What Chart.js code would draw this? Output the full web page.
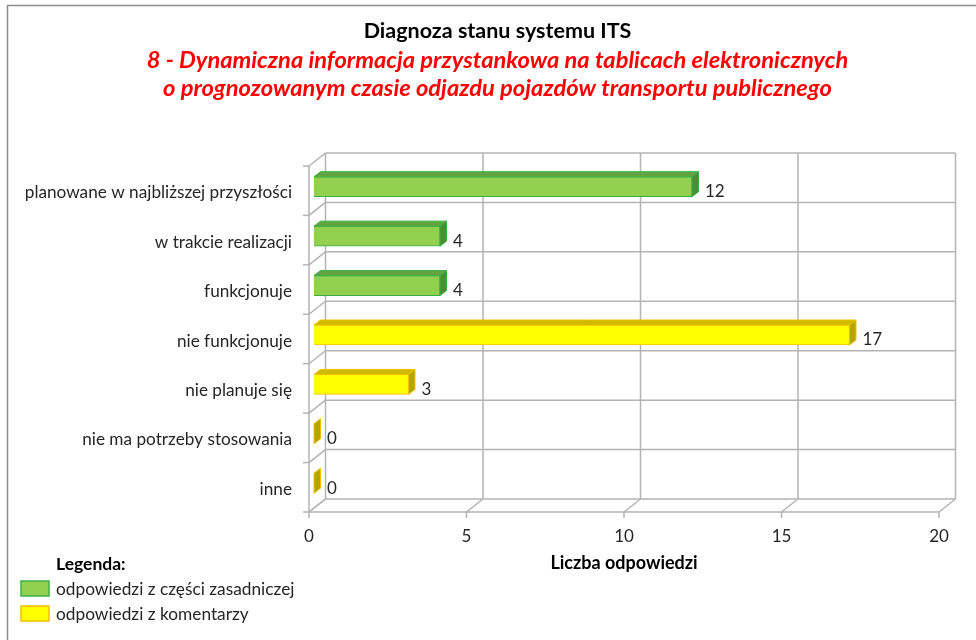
<!DOCTYPE html>
<html>
<head>
<meta charset="utf-8">
<script src="https://cdn.jsdelivr.net/npm/chart.js@4.4.1/dist/chart.umd.min.js"></script>
<style>
  html, body { margin: 0; padding: 0; background: #fff; }
  #wrap { width: 976px; height: 640px; }
</style>
</head>
<body>
<div id="wrap"><canvas id="myChart" width="976" height="640"></canvas></div>
<script>
// dane
const kategorie = [
  'planowane w najbliższej przyszłości',
  'w trakcie realizacji',
  'funkcjonuje',
  'nie funkcjonuje',
  'nie planuje się',
  'nie ma potrzeby stosowania',
  'inne'
];
const zasadnicza = [12, 4, 4, null, null, null, null];
const komentarze = [null, null, null, 17, 3, 0, 0];
const ticki_x = [0, 5, 10, 15, 20];
const tytul = 'Diagnoza stanu systemu ITS';
const podtytul = [
  '8 - Dynamiczna informacja przystankowa na tablicach elektronicznych',
  'o prognozowanym czasie odjazdu pojazdów transportu publicznego'
];
const tytul_osi_x = 'Liczba odpowiedzi';
const legenda_tytul = 'Legenda:';
const nazwy_serii = ['odpowiedzi z części zasadniczej', 'odpowiedzi z komentarzy'];

// wyglad 3D
const glab = { x: 16.5, y: -13 };      // tylna sciana wzgledem frontu
const przes = { x: 5, y: -4 };         // slupki troche w glebi
const grub = { x: 6.5, y: -5 };        // glebokosc samego slupka
const kolory = [
  { front: '#92d050', brzeg: '#3cb043', gora: '#64a440', bok: '#4e8c30' },
  { front: '#ffff00', brzeg: '#f2bf00', gora: '#cdbb00', bok: '#b4a600' }
];
const szary = '#b3b3b3';

Chart.defaults.font.family = 'Lato';

function linia(ctx, x1, y1, x2, y2) {
  ctx.beginPath();
  ctx.moveTo(x1, y1);
  ctx.lineTo(x2, y2);
  ctx.stroke();
}

const sciany = {
  id: 'sciany',
  afterLayout(chart) {
    // tytuly w oryginale sa troche na prawo od srodka
    for (const box of chart.boxes) {
      if (!box.axis && box.position === 'top') {
        box.left += 18;
        box.right += 18;
      }
    }
  },
  beforeDraw(chart) {
    const ctx = chart.ctx;
    ctx.save();
    ctx.fillStyle = '#fff';
    ctx.fillRect(0, 0, chart.width, chart.height);
    ctx.strokeStyle = '#8c8c8c';
    ctx.lineWidth = 1.5;
    ctx.strokeRect(7.5, 5.5, chart.width + 20, chart.height + 20);
    ctx.restore();
  },
  beforeDatasetsDraw(chart) {
    const ctx = chart.ctx, a = chart.chartArea, sx = chart.scales.x;
    const pas = a.height / kategorie.length;
    ctx.save();
    ctx.strokeStyle = szary;
    ctx.lineWidth = 1.5;
    // tylna sciana - poziome
    for (let i = 0; i <= kategorie.length; i++) {
      const y = a.top + i * pas;
      linia(ctx, a.left + glab.x, y + glab.y, a.right + glab.x, y + glab.y);
      // lewa sciana
      linia(ctx, a.left, y, a.left + glab.x, y + glab.y);
      linia(ctx, a.left - 6, y, a.left, y);
    }
    // tylna sciana - pionowe + podloga
    for (const v of ticki_x) {
      const x = sx.getPixelForValue(v);
      linia(ctx, x + glab.x, a.top + glab.y, x + glab.x, a.bottom + glab.y);
      linia(ctx, x, a.bottom, x + glab.x, a.bottom + glab.y);
      linia(ctx, x, a.bottom, x, a.bottom + 6);
    }
    linia(ctx, a.left, a.top, a.left, a.bottom);
    linia(ctx, a.left, a.bottom, a.right, a.bottom);
    ctx.restore();

    // slupki rysowane w glebi
    ctx.save();
    ctx.translate(przes.x, przes.y);
  },
  afterDatasetsDraw(chart) {
    const ctx = chart.ctx;
    chart.data.datasets.forEach((ds, di) => {
      const meta = chart.getDatasetMeta(di);
      const k = kolory[di];
      meta.data.forEach((bar, i) => {
        if (ds.data[i] == null) return;
        const p = bar.getProps(['x', 'y', 'base', 'height'], true);
        const l = Math.min(p.x, p.base), r = Math.max(p.x, p.base);
        const t = p.y - p.height / 2, b = p.y + p.height / 2;
        ctx.lineWidth = 1;
        ctx.strokeStyle = k.brzeg;
        // gora
        ctx.beginPath();
        ctx.moveTo(l, t); ctx.lineTo(r, t);
        ctx.lineTo(r + grub.x, t + grub.y); ctx.lineTo(l + grub.x, t + grub.y);
        ctx.closePath();
        ctx.fillStyle = k.gora; ctx.fill();
        if (r - l > 1) ctx.stroke();
        // bok
        ctx.beginPath();
        ctx.moveTo(r, t); ctx.lineTo(r + grub.x, t + grub.y);
        ctx.lineTo(r + grub.x, b + grub.y); ctx.lineTo(r, b);
        ctx.closePath();
        ctx.fillStyle = k.bok; ctx.fill(); ctx.stroke();
        // etykieta
        ctx.fillStyle = '#262626';
        ctx.font = '17px Lato';
        ctx.textAlign = 'left';
        ctx.textBaseline = 'middle';
        ctx.fillText(String(ds.data[i]), r + 13, p.y + 5);
      });
    });
    ctx.restore();
  },
  afterDraw(chart) {
    const ctx = chart.ctx;
    ctx.save();
    ctx.textAlign = 'left';
    ctx.textBaseline = 'middle';
    ctx.fillStyle = '#000';
    ctx.font = 'bold 17.5px Lato';
    ctx.fillText(legenda_tytul, 56, 564);
    ctx.font = '17.3px Lato';
    chart.data.datasets.forEach((ds, di) => {
      const y = 581 + di * 25;
      ctx.fillStyle = kolory[di].front;
      ctx.fillRect(21, y, 28, 15);
      ctx.strokeStyle = kolory[di].brzeg;
      ctx.lineWidth = 1.5;
      ctx.strokeRect(21, y, 28, 15);
      ctx.fillStyle = '#262626';
      ctx.fillText(ds.label, 56, y + 8);
    });
    ctx.restore();
  }
};

const ctx = document.getElementById('myChart');

const myChart = new Chart(ctx, {
  type: 'bar',
  data: {
    labels: kategorie,
    datasets: [
      {
        label: nazwy_serii[0],
        data: zasadnicza,
        backgroundColor: kolory[0].front,
        borderColor: kolory[0].brzeg,
        borderWidth: 1,
        barThickness: 20
      },
      {
        label: nazwy_serii[1],
        data: komentarze,
        backgroundColor: kolory[1].front,
        borderColor: kolory[1].brzeg,
        borderWidth: 1,
        barThickness: 20
      }
    ]
  },
  options: {
    indexAxis: 'y',
    responsive: false,
    animation: false,
    layout: { padding: { left: 20, right: 37, top: 0, bottom: 0 } },
    plugins: {
      legend: { display: false },
      tooltip: { enabled: false },
      title: {
        display: true,
        text: tytul,
        color: '#000',
        font: { size: 21.5, weight: 'bold', lineHeight: 1.2 },
        padding: { top: 18.1, bottom: 0 }
      },
      subtitle: {
        display: true,
        text: podtytul,
        color: '#ff0000',
        font: { size: 23.7, weight: 'bold', style: 'italic', lineHeight: 28 / 23.7 },
        padding: { top: 2.1, bottom: 64 }
      }
    },
    scales: {
      x: {
        min: 0,
        max: 20,
        stacked: true,
        afterBuildTicks: (sc) => { sc.ticks = ticki_x.map(v => ({ value: v })); },
        afterFit: (sc) => { sc.height = 128; },
        ticks: { color: '#262626', font: { size: 17 }, padding: 14 },
        grid: { display: false, drawTicks: false },
        border: { display: false },
        title: {
          display: true,
          text: tytul_osi_x,
          color: '#000',
          font: { size: 18, weight: 'bold' },
          padding: { top: 66, bottom: 66 }
        }
      },
      y: {
        stacked: true,
        afterFit: (sc) => { sc.width = 289; },
        ticks: { color: '#262626', font: { size: 17.2 }, padding: 17, labelOffset: 2 },
        grid: { display: false, drawTicks: false },
        border: { display: false }
      }
    }
  },
  plugins: [sciany]
});
</script>
</body>
</html>
